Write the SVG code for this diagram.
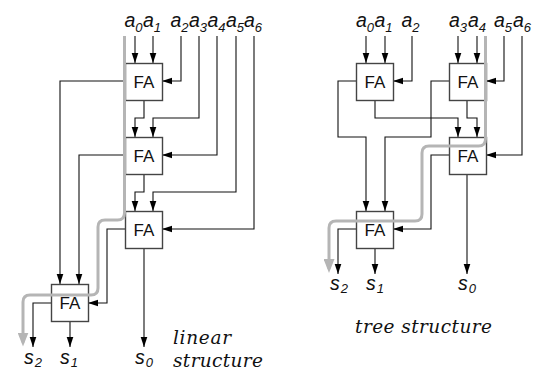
<svg xmlns="http://www.w3.org/2000/svg" width="540" height="381" viewBox="0 0 540 381">
<style>
.box{fill:#fff;stroke:#444;stroke-width:1.4}
.fa{font-family:"Liberation Sans",Arial,sans-serif;font-size:17px;fill:#111;text-anchor:middle}
.w{fill:none;stroke:#111;stroke-width:1.1}
.arr{marker-end:url(#ah)}
.g{fill:none;stroke:#b5b5b5;stroke-width:3;marker-end:url(#gh)}
.lbl{font-family:"Liberation Sans",Arial,sans-serif;font-style:italic;font-size:19.5px;fill:#111}
.sub{font-size:13px}
.ttl{font-family:"DejaVu Serif","Liberation Serif",serif;font-style:italic;font-size:18.5px;fill:#111}
</style>
<defs>
<marker id="ah" markerWidth="10" markerHeight="8" refX="10" refY="4" orient="auto" markerUnits="userSpaceOnUse"><path d="M0,0.7 L10,4 L0,7.3 z" fill="#000"/></marker>
<marker id="gh" markerWidth="14" markerHeight="11" refX="10" refY="5.5" orient="auto" markerUnits="userSpaceOnUse"><path d="M0,0 L14,5.5 L0,11 z" fill="#b5b5b5"/></marker>
</defs>
<rect width="540" height="381" fill="#fff"/>

<g id="connectors">
<!-- linear -->
<path class="w arr" d="M135,36 V63"/>
<path class="w arr" d="M153,36 V63"/>
<path class="w arr" d="M181,36 V81 H162"/>
<path class="w arr" d="M199,36 V118 H153 V137"/>
<path class="w arr" d="M144,100 V118 H135 V137"/>
<path class="w arr" d="M125,81 H60 V284"/>
<path class="w arr" d="M217,36 V155 H162"/>
<path class="w arr" d="M125,155 H79 V284"/>
<path class="w arr" d="M144,174 V192 H135 V211"/>
<path class="w arr" d="M236,36 V192 H153 V211"/>
<path class="w arr" d="M254,36 V229 H162"/>
<path class="w arr" d="M125,229 H107 V303 H88"/>
<path class="w arr" d="M144,248 V347"/>
<path class="w arr" d="M51,303 H33 V347"/>
<path class="w arr" d="M70,321 V347"/>
<!-- tree -->
<path class="w arr" d="M366,36 V63"/>
<path class="w arr" d="M385,36 V63"/>
<path class="w arr" d="M412,36 V81 H393"/>
<path class="w arr" d="M458,36 V63"/>
<path class="w arr" d="M477,36 V63"/>
<path class="w arr" d="M504,36 V81 H486"/>
<path class="w arr" d="M522,36 V155 H486"/>
<path class="w arr" d="M356,81 H338 V137 H366 V211"/>
<path class="w arr" d="M375,100 V118 H458 V137"/>
<path class="w arr" d="M449,81 H431 V137 H385 V211"/>
<path class="w arr" d="M467,100 V118 H477 V137"/>
<path class="w arr" d="M449,155 H431 V229 H393"/>
<path class="w arr" d="M467,174 V274"/>
<path class="w arr" d="M356,229 H338 V274"/>
<path class="w arr" d="M375,248 V274"/>
</g>

<g id="fa1"><rect class="box" x="125.5" y="63.5" width="37" height="37"/><text class="fa" x="144" y="88">FA</text></g>
<g id="fa2"><rect class="box" x="125.5" y="137.5" width="37" height="37"/><text class="fa" x="144" y="162">FA</text></g>
<g id="fa3"><rect class="box" x="125.5" y="211.5" width="37" height="37"/><text class="fa" x="144" y="236">FA</text></g>
<g id="fa4"><rect class="box" x="51.5" y="284.5" width="37" height="37"/><text class="fa" x="70" y="309">FA</text></g>
<g id="fa5"><rect class="box" x="356.5" y="63.5" width="37" height="37"/><text class="fa" x="375" y="88">FA</text></g>
<g id="fa6"><rect class="box" x="449.5" y="63.5" width="37" height="37"/><text class="fa" x="468" y="88">FA</text></g>
<g id="fa7"><rect class="box" x="449.5" y="137.5" width="37" height="37"/><text class="fa" x="468" y="162">FA</text></g>
<g id="fa8"><rect class="box" x="356.5" y="211.5" width="37" height="37"/><text class="fa" x="375" y="236">FA</text></g>

<g id="critical-paths">
<path class="g" d="M124.5,36 V213 Q124.5,220 117.5,220 H105 Q98,220 98,227 V288 Q98,295 91,295 H30 Q23,295 23,302 V342.5"/>
<path class="g" d="M485.5,36 V139 Q485.5,146 478.5,146 H429 Q422,146 422,153 V214 Q422,221 415,221 H336 Q329,221 329,228 V269"/>
</g>

<g id="inputs-linear" class="lbl">
<text x="124.5" y="27">a<tspan class="sub" y="31.5">0</tspan></text>
<text x="143" y="27">a<tspan class="sub" y="31.5">1</tspan></text>
<text x="170.5" y="27">a<tspan class="sub" y="31.5">2</tspan></text>
<text x="189" y="27">a<tspan class="sub" y="31.5">3</tspan></text>
<text x="207.5" y="27">a<tspan class="sub" y="31.5">4</tspan></text>
<text x="226" y="27">a<tspan class="sub" y="31.5">5</tspan></text>
<text x="244" y="27">a<tspan class="sub" y="31.5">6</tspan></text>
</g>
<g id="inputs-tree" class="lbl">
<text x="356" y="27">a<tspan class="sub" y="31.5">0</tspan></text>
<text x="374.5" y="27">a<tspan class="sub" y="31.5">1</tspan></text>
<text x="401.5" y="27">a<tspan class="sub" y="31.5">2</tspan></text>
<text x="449" y="27">a<tspan class="sub" y="31.5">3</tspan></text>
<text x="468" y="27">a<tspan class="sub" y="31.5">4</tspan></text>
<text x="494" y="27">a<tspan class="sub" y="31.5">5</tspan></text>
<text x="513" y="27">a<tspan class="sub" y="31.5">6</tspan></text>
</g>
<g id="outputs-linear" class="lbl">
<text x="24" y="364">s<tspan class="sub" y="367" dx="1">2</tspan></text>
<text x="60" y="364">s<tspan class="sub" y="367" dx="1">1</tspan></text>
<text x="135" y="364">s<tspan class="sub" y="367" dx="1">0</tspan></text>
</g>
<g id="outputs-tree" class="lbl">
<text x="330" y="290">s<tspan class="sub" y="293" dx="1">2</tspan></text>
<text x="366" y="290">s<tspan class="sub" y="293" dx="1">1</tspan></text>
<text x="458" y="290">s<tspan class="sub" y="293" dx="1">0</tspan></text>
</g>
<g id="titles" class="ttl">
<text x="173" y="344" textLength="58">linear</text>
<text x="173" y="366.5" textLength="90">structure</text>
<text x="355" y="333" textLength="137">tree structure</text>
</g>
</svg>
